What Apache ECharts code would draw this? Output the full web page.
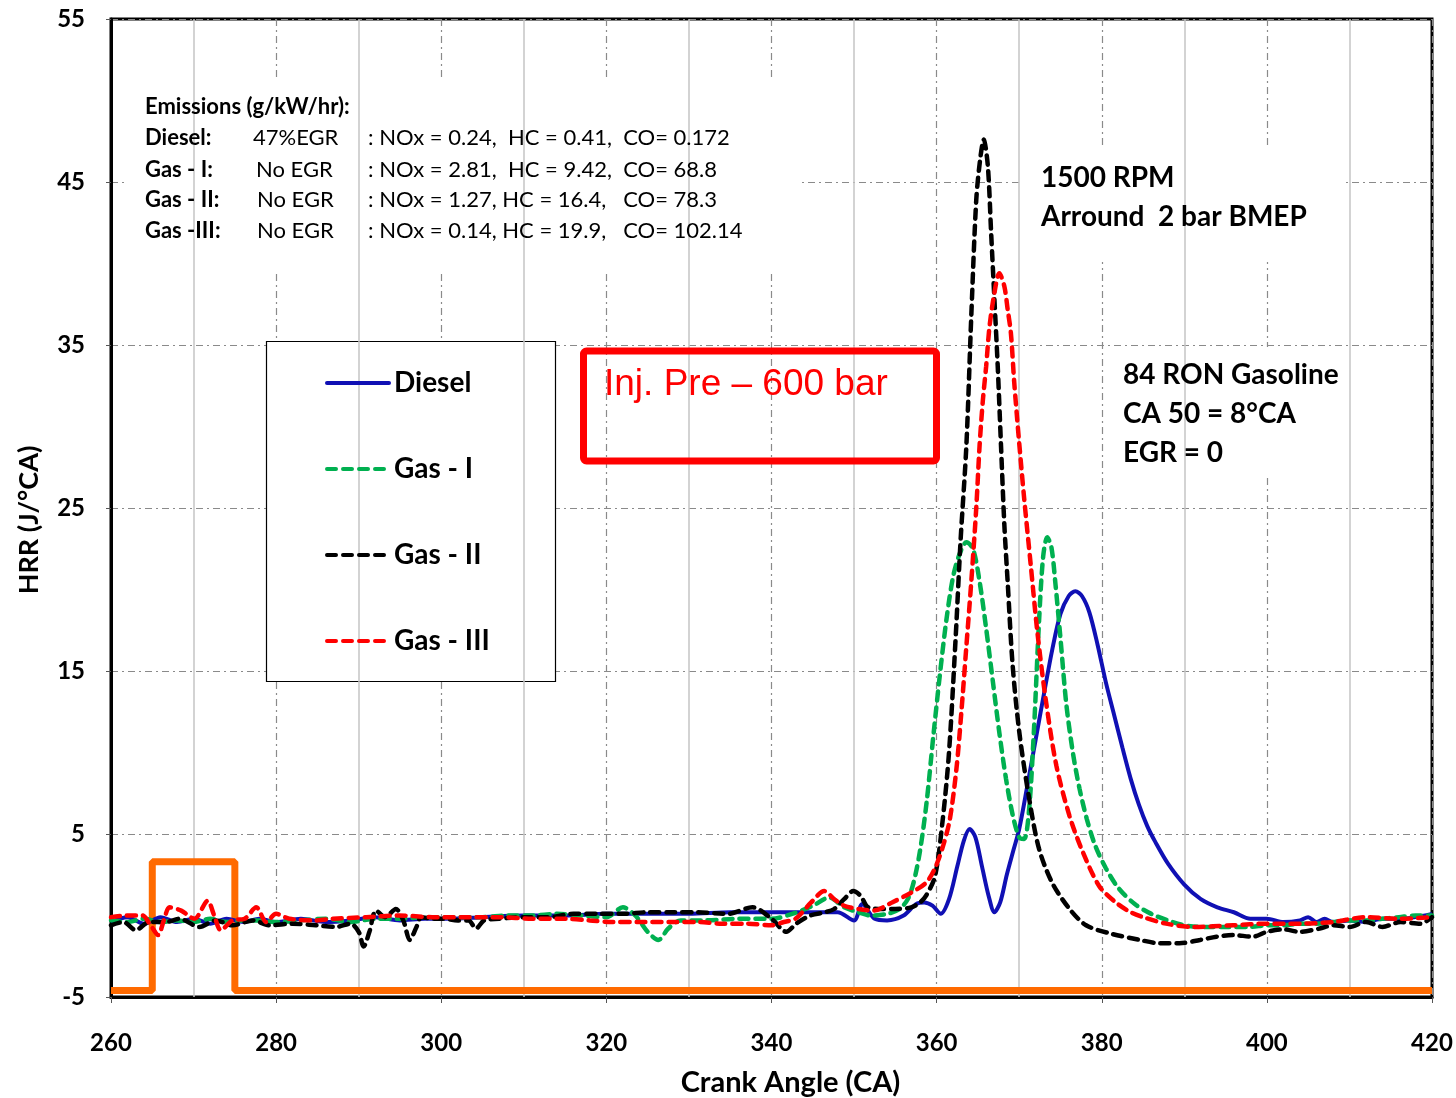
<!DOCTYPE html>
<html>
<head>
<meta charset="utf-8">
<title>HRR vs Crank Angle</title>
<script src="https://cdn.jsdelivr.net/npm/echarts@6/dist/echarts.min.js"></script>
<style>
    html, body { margin: 0; padding: 0; background: #fff; }
    #hrr_chart { width: 1456px; height: 1098px; }
</style>
</head>
<body>
<div id="hrr_chart"></div>
<script>
// series names
var seriesNames = ['Diesel', 'Gas - I', 'Gas - II', 'Gas - III'];

// Diesel, 47% EGR
var dieselCA  = [260, 262, 264, 266, 268, 270, 272, 274, 276, 278, 280, 283, 286, 289, 292, 295, 298, 301, 305, 310, 315, 320, 325, 330, 335, 340, 344, 348, 350, 351, 352.5, 354, 356, 357.5, 358.5, 359.5, 360.5, 361.5, 362.5, 363.3, 364, 364.7, 365.5, 366.3, 367, 367.7, 368.5, 369.3, 370, 371, 372, 373, 374, 375, 376, 376.8, 377.6, 378.5, 379.5, 380.5, 381.5, 382.5, 383.5, 384.5, 385.5, 386.5, 388, 390, 392, 394, 396, 398, 400, 402, 404, 405, 406, 407, 408, 410, 412, 414, 416, 418, 420];
var dieselHRR = [-0.4, -0.1, -0.5, -0.1, -0.4, -0.2, -0.5, -0.2, -0.4, -0.2, -0.4, -0.2, -0.4, -0.3, -0.1, -0.3, -0.2, -0.2, -0.1, 0.0, 0.0, 0.1, 0.1, 0.1, 0.2, 0.2, 0.2, 0.2, -0.3, 0.7, -0.2, -0.3, 0.0, 0.7, 0.8, 0.6, 0.1, 1.0, 3.0, 4.6, 5.3, 4.8, 3.0, 1.2, 0.2, 0.8, 2.5, 4.0, 5.3, 8.0, 10.8, 13.6, 16.3, 18.5, 19.6, 19.9, 19.6, 18.6, 16.6, 14.3, 12.3, 10.3, 8.4, 6.8, 5.5, 4.5, 3.2, 1.9, 1.0, 0.5, 0.2, -0.2, -0.2, -0.4, -0.3, -0.1, -0.4, -0.2, -0.4, -0.3, -0.4, -0.2, -0.2, -0.1, 0.1];

// Gas - I, no EGR
var gas1CA  = [260, 262, 264, 266, 268, 270, 272, 274, 276, 278, 280, 283, 286, 289, 292, 295, 298, 301, 305, 308, 311, 314, 317, 320, 322, 323.5, 325, 326.3, 327.5, 329, 332, 336, 340, 342.5, 345, 347, 348.8, 350.5, 352, 354, 355.5, 356.5, 357.2, 358, 358.8, 359.6, 360.4, 361.2, 362, 362.8, 363.6, 364.4, 365.2, 366, 366.8, 367.6, 368.4, 369.2, 370, 370.6, 371.2, 371.8, 372.4, 372.9, 373.4, 373.9, 374.4, 375, 375.7, 376.5, 377.3, 378.2, 379.2, 380.5, 382, 384, 386, 388, 390, 392, 395, 398, 400, 402, 404, 406, 408, 410, 412, 414, 416, 418, 420];
var gas1HRR = [-0.3, -0.4, -0.2, -0.4, -0.3, -0.4, -0.2, -0.4, -0.3, -0.3, -0.4, -0.3, -0.2, -0.4, -0.2, -0.2, -0.1, -0.1, -0.1, 0.0, 0.0, 0.1, 0.0, -0.1, 0.5, 0.0, -1.0, -1.5, -0.8, -0.3, -0.3, -0.2, -0.2, 0.1, 0.6, 1.1, 0.5, 0.2, 0.0, 0.1, 0.4, 1.0, 2.0, 4.0, 7.0, 11.0, 14.8, 18.2, 20.8, 22.2, 22.9, 22.5, 20.5, 17.6, 14.4, 11.2, 8.4, 6.2, 4.8, 4.7, 6.5, 11.5, 18.0, 22.0, 23.2, 22.6, 20.3, 17.0, 13.0, 10.0, 7.8, 5.9, 4.3, 2.9, 1.7, 0.7, 0.1, -0.3, -0.6, -0.7, -0.7, -0.7, -0.6, -0.6, -0.5, -0.5, -0.4, -0.3, -0.3, -0.2, -0.1, 0.0, 0.0];

// Gas - II, no EGR
var gas2CA  = [260, 261.5, 263, 264.6, 266.7, 268.3, 270.7, 272.7, 274.7, 277.2, 279.2, 282, 284.8, 287.3, 289, 290, 290.6, 291.3, 292.1, 293.2, 294.5, 295.4, 296.2, 297, 297.6, 299, 300.2, 302, 303.3, 304.2, 305.2, 307, 310, 313, 316, 319, 322, 325, 328, 331, 334.7, 337.7, 340, 341.8, 343, 344.7, 346.5, 347.6, 348.8, 349.9, 350.8, 351.7, 353.4, 355, 356.9, 358, 358.7, 359.8, 360.7, 361.5, 362.3, 362.9, 363.6, 364.2, 364.8, 365.3, 365.7, 366.2, 366.6, 367, 367.4, 367.8, 368.2, 368.6, 369.2, 370, 371.2, 372.4, 374, 376.1, 378.1, 381, 384.6, 387, 389.4, 391.9, 393.9, 395.9, 398.3, 400, 402, 404, 406.4, 408, 410, 412, 414, 416.2, 418.6, 420];
var gas2HRR = [-0.6, -0.4, -0.9, -0.4, -0.4, -0.2, -0.7, -0.3, -0.6, -0.3, -0.6, -0.5, -0.6, -0.7, -0.5, -1.0, -1.9, -1.0, 0.3, -0.1, 0.4, -0.3, -1.5, -0.7, -0.1, -0.2, -0.2, -0.3, -0.3, -0.8, -0.3, -0.2, -0.1, -0.1, 0.1, 0.1, 0.1, 0.2, 0.2, 0.2, 0.1, 0.5, -0.2, -1.0, -0.5, 0.0, 0.2, 0.4, 1.0, 1.5, 1.2, 0.5, 0.4, 0.4, 0.5, 0.8, 1.2, 2.4, 5.7, 10.0, 17.0, 23.0, 28.8, 36.8, 43.9, 46.5, 47.6, 46.0, 41.9, 37.8, 33.7, 28.8, 24.0, 20.5, 15.4, 11.3, 7.2, 4.1, 2.0, 0.4, -0.6, -1.1, -1.5, -1.7, -1.7, -1.5, -1.3, -1.2, -1.3, -1.0, -0.85, -1.0, -0.8, -0.6, -0.7, -0.4, -0.7, -0.4, -0.5, -0.1];

// Gas - III, no EGR
var gas3CA  = [260, 261.8, 263.8, 264.8, 265.7, 266.4, 267.1, 268.5, 270.1, 271.7, 272.5, 273.3, 274.7, 276.2, 277.6, 278.8, 280, 281.6, 284.8, 286.9, 290.9, 294.9, 298.9, 303, 307, 311, 315, 318, 320.6, 324, 328, 331.2, 334, 337, 340, 341.5, 342.9, 344.8, 346.4, 347.6, 348.8, 350.5, 352.3, 354.6, 356.9, 358.7, 359.8, 360.8, 361.6, 362.4, 363, 363.6, 364.2, 364.8, 365.2, 365.6, 366, 366.4, 367, 367.6, 368.2, 368.6, 369, 369.4, 370, 370.6, 371.4, 372.2, 373.2, 374.5, 376.1, 377.7, 379.7, 381.7, 383.5, 385, 387.8, 391, 395.9, 400, 404, 408, 412, 416, 420];
var gas3HRR = [-0.1, 0.0, 0.0, -0.6, -1.2, -0.3, 0.5, 0.3, -0.2, 0.9, 0.0, -0.9, -0.3, -0.2, 0.5, -0.4, 0.1, -0.2, -0.3, -0.2, -0.1, 0.0, -0.1, -0.1, -0.1, -0.2, -0.2, -0.3, -0.4, -0.4, -0.4, -0.4, -0.5, -0.5, -0.6, -0.4, -0.2, 0.8, 1.5, 1.0, 0.6, 0.4, 0.3, 0.8, 1.4, 2.0, 2.9, 4.3, 5.9, 9.0, 12.5, 16.5, 20.5, 25.0, 28.8, 31.6, 33.7, 36.1, 38.2, 39.4, 38.6, 37.2, 35.7, 32.7, 29.0, 25.6, 21.5, 17.4, 13.3, 9.2, 6.1, 3.9, 1.8, 0.8, 0.2, -0.1, -0.5, -0.7, -0.6, -0.5, -0.5, -0.4, -0.1, -0.2, -0.1];

// injection signal (square pulse)
var injCA     = [260, 265, 265, 275, 275, 420];
var injSignal = [-4.6, -4.6, 3.3, 3.3, -4.6, -4.6];

// solid (minor) vertical grid lines
var minorGridCA = [270, 290, 310, 330, 350, 370, 390, 410];

var FONT = 'Lato, "Open Sans", sans-serif';

function pairs(xs, ys){
    return xs.map(function(x, i){ return [x, ys[i]]; });
}

function HrrChart(){

}
HrrChart.prototype.init = function(){
    this.chart = echarts.init(document.getElementById('hrr_chart'));
    this.loadChart();
}
HrrChart.prototype.dashed = function(name, color, xs, ys){
    return {
        name: name,
        type: 'line',
        data: pairs(xs, ys),
        symbol: 'none',
        smooth: 0.3,
        z: 10,
        lineStyle: { color: color, width: 4.5, type: [9, 7], cap: 'round' },
        itemStyle: { color: color }
    };
}
HrrChart.prototype.text = function(x, y, str, size, bold){
    return {
        type: 'text', z: 6, silent: true,
        style: {
            x: x, y: y, text: str, fill: '#000',
            font: (bold ? 'bold ' : '') + size + 'px ' + FONT,
            verticalAlign: 'middle'
        }
    };
}
HrrChart.prototype.box = function(x, y, w, h){
    return {
        type: 'rect', z: 5, silent: true,
        shape: { x: x, y: y, width: w, height: h },
        style: { fill: '#fff' }
    };
}
HrrChart.prototype.loadChart = function(){
    var self = this;
    var graphics = [
        // white boxes behind the annotations
        this.box(125, 81, 675, 191),
        this.box(1023, 148, 320, 114),
        this.box(1106, 347, 256, 131),
        // legend frame
        {
            type: 'rect', z: 5, silent: true,
            shape: { x: 266.5, y: 341.5, width: 289, height: 340 },
            style: { fill: '#fff', stroke: '#000', lineWidth: 1.2 }
        },
        // injection pressure box
        {
            type: 'rect', z: 6, silent: true,
            shape: { x: 583.5, y: 351, width: 353, height: 110, r: 3 },
            style: { fill: 'transparent', stroke: '#ff0000', lineWidth: 7 }
        },
        {
            type: 'text', z: 7, silent: true,
            style: {
                x: 604, y: 385, text: 'Inj. Pre \u2013 600 bar', fill: '#ff0000',
                font: '37px "Liberation Sans", Arial, sans-serif', verticalAlign: 'middle'
            }
        },
        // emissions table
        this.text(145, 107, 'Emissions (g/kW/hr):', 22, true),
        this.text(145, 138, 'Diesel:', 22, true),
        this.text(253, 138, '47%EGR', 22, false),
        this.text(368, 138, ': NOx = 0.24,  HC = 0.41,  CO= 0.172', 22, false),
        this.text(145, 170, 'Gas - I:', 22, true),
        this.text(256, 170, 'No EGR', 22, false),
        this.text(368, 170, ': NOx = 2.81,  HC = 9.42,  CO= 68.8', 22, false),
        this.text(145, 200, 'Gas - II:', 22, true),
        this.text(257, 200, 'No EGR', 22, false),
        this.text(368, 200, ': NOx = 1.27, HC = 16.4,   CO= 78.3', 22, false),
        this.text(145, 231, 'Gas -III:', 22, true),
        this.text(257, 231, 'No EGR', 22, false),
        this.text(368, 231, ': NOx = 0.14, HC = 19.9,   CO= 102.14', 22, false),
        // operating conditions
        this.text(1041, 178, '1500 RPM', 28, true),
        this.text(1041, 217, 'Arround  2 bar BMEP', 28, true),
        this.text(1123, 375, '84 RON Gasoline', 28, true),
        this.text(1123, 414, 'CA 50 = 8\u00B0CA', 28, true),
        this.text(1123, 453, 'EGR = 0', 28, true)
    ];

    var option = {
        animation: false,
        backgroundColor: '#fff',
        grid: {
            left: 111,
            right: 24,
            top: 19,
            bottom: 101,
            outerBoundsMode: 'none',
            show: true,
            borderColor: '#000',
            borderWidth: 3,
            backgroundColor: 'transparent'
        },
        legend: {
            data: seriesNames,
            orient: 'vertical',
            left: 325,
            top: 368,
            padding: 0,
            itemWidth: 62,
            itemHeight: 14,
            itemGap: 56,
            selectedMode: false,
            itemStyle: { opacity: 0 },
            lineStyle: { width: 4, cap: 'round' },
            textStyle: {
                fontFamily: FONT,
                fontWeight: 'bold',
                fontSize: 28,
                lineHeight: 30,
                color: '#000'
            },
            z: 20
        },
        xAxis: {
            type: 'value',
            min: 260,
            max: 420,
            interval: 20,
            name: 'Crank Angle (CA)',
            nameLocation: 'middle',
            nameGap: 71,
            nameTextStyle: {
                fontFamily: FONT, fontWeight: 'bold', fontSize: 29, color: '#000',
                padding: [0, 0, 0, 38]
            },
            axisLine: { onZero: false, lineStyle: { color: '#000', width: 3 } },
            axisTick: { show: true, length: 6, lineStyle: { color: '#555', width: 1 } },
            axisLabel: {
                margin: 34,
                fontFamily: FONT, fontWeight: 'bold', fontSize: 24, color: '#000'
            },
            splitLine: {
                show: true,
                lineStyle: { color: '#8a8a8a', width: 1.2, type: [7, 4, 2, 4] }
            }
        },
        yAxis: {
            type: 'value',
            min: -5,
            max: 55,
            interval: 10,
            name: 'HRR (J/\u00B0CA)',
            nameLocation: 'middle',
            nameGap: 68,
            nameRotate: 90,
            nameTextStyle: {
                fontFamily: FONT, fontWeight: 'bold', fontSize: 27, color: '#000',
                padding: [0, 24, 0, 0]
            },
            axisLine: { show: true, onZero: false, lineStyle: { color: '#000', width: 3 } },
            axisTick: { show: true, length: 5, lineStyle: { color: '#555', width: 1 } },
            axisLabel: {
                margin: 26,
                fontFamily: FONT, fontWeight: 'bold', fontSize: 24, color: '#000'
            },
            splitLine: {
                show: true,
                lineStyle: { color: '#8a8a8a', width: 1.2, type: [7, 4, 2, 4] }
            }
        },
        graphic: graphics,
        series: [
            {
                name: 'grid',
                type: 'line',
                data: [],
                z: 1,
                silent: true,
                markLine: {
                    silent: true,
                    symbol: 'none',
                    label: { show: false },
                    lineStyle: { color: '#c4c4c4', type: 'solid', width: 1.5 },
                    data: minorGridCA.map(function(v){ return { xAxis: v }; })
                }
            },
            {
                name: 'Injection',
                type: 'line',
                data: pairs(injCA, injSignal),
                symbol: 'none',
                z: 9,
                lineStyle: { color: '#ff6a00', width: 7 }
            },
            {
                name: 'Diesel',
                type: 'line',
                data: pairs(dieselCA, dieselHRR),
                symbol: 'none',
                smooth: 0.3,
                z: 10,
                lineStyle: { color: '#1010b4', width: 4 },
                itemStyle: { color: '#1010b4' }
            },
            self.dashed('Gas - I', '#00b050', gas1CA, gas1HRR),
            self.dashed('Gas - II', '#000000', gas2CA, gas2HRR),
            self.dashed('Gas - III', '#ff0000', gas3CA, gas3HRR)
        ]
    };
    this.chart.setOption(option, true);
    window.onresize = function(){
        self.chart.resize();
    }
}
var start_hrr = new HrrChart();
start_hrr.init();
</script>
</body>
</html>
